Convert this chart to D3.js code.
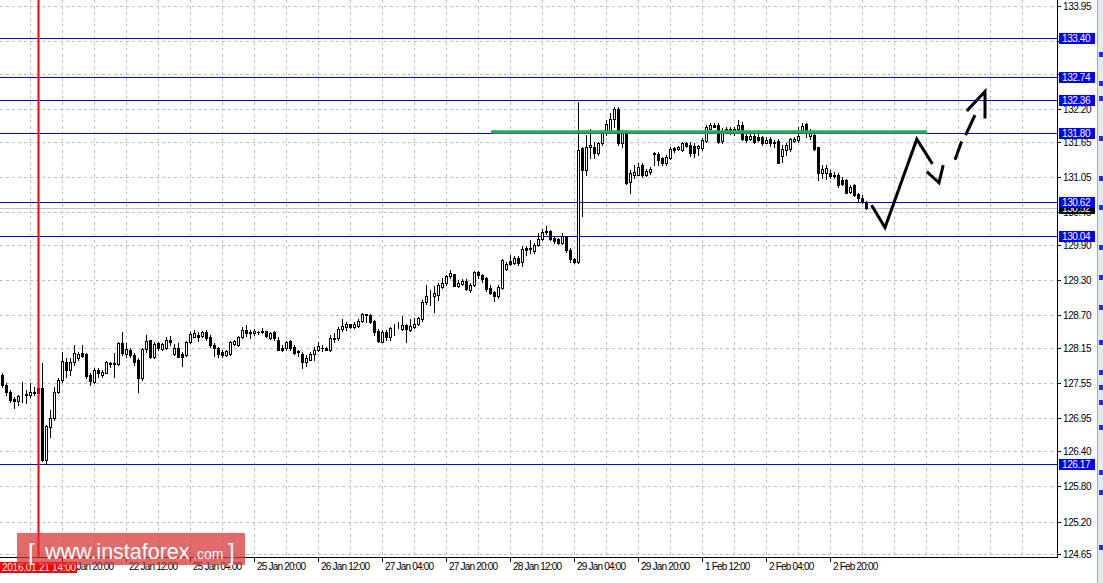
<!DOCTYPE html>
<html><head><meta charset="utf-8">
<script src="https://cdn.jsdelivr.net/npm/d3@7"></script>
<style>body{margin:0;background:#fff}svg{display:block}</style>
</head><body><svg id="c" width="1103" height="583"></svg>
<script>
// ---- DATA ----
const firstBar = 1; // bar index of first candle (H1 bars from 21 Jan 04:00)
const opens = [127.69,127.52,127.40,127.28,127.25,127.34,127.34,127.34,127.38,127.47,127.46,126.25,126.81,126.95,127.40,127.60,127.91,127.77,127.91,127.97,128.06,128.04,127.69,127.57,127.78,127.69,127.73,127.88,127.89,127.88,128.23,128.04,128.11,128.03,127.94,127.63,128.13,128.28,128.00,128.23,128.13,128.14,128.28,128.04,128.14,128.04,128.03,128.24,128.34,128.37,128.35,128.41,128.34,128.20,128.14,128.07,128.03,128.04,128.21,128.20,128.34,128.45,128.40,128.40,128.42,128.42,128.43,128.31,128.41,128.29,128.14,128.14,128.26,128.17,128.09,128.04,127.90,127.95,128.04,128.11,128.15,128.15,128.12,128.31,128.31,128.46,128.50,128.55,128.51,128.52,128.61,128.71,128.71,128.60,128.44,128.25,128.42,128.34,128.48,128.50,128.46,128.53,128.45,128.51,128.55,128.63,128.92,129.02,129.03,129.05,129.18,129.25,129.36,129.40,129.20,129.23,129.29,129.13,129.22,129.44,129.38,129.33,129.16,129.10,129.02,129.16,129.48,129.62,129.59,129.67,129.61,129.84,129.83,129.79,129.89,129.99,130.12,130.13,130.01,129.99,129.92,130.03,129.81,129.65,129.61,131.54,131.17,131.56,131.56,131.45,131.62,131.79,131.82,132.03,132.20,131.62,131.79,130.96,131.08,131.09,131.25,131.09,131.13,131.46,131.44,131.37,131.28,131.37,131.54,131.52,131.51,131.62,131.59,131.57,131.54,131.54,131.66,131.87,131.93,131.93,131.66,131.82,131.86,131.82,131.86,131.93,131.74,131.70,131.74,131.72,131.72,131.63,131.70,131.62,131.66,131.40,131.51,131.52,131.66,131.68,131.80,131.95,131.74,131.76,131.55,131.11,131.11,131.12,131.08,131.08,131.00,130.99,130.80,130.91,130.76,130.70,130.61];
const highs = [127.72,127.55,127.43,127.32,127.35,127.57,127.43,127.55,127.49,127.49,127.89,126.84,127.10,127.49,127.63,128.08,127.97,127.97,128.20,128.08,128.20,128.06,127.72,127.80,127.80,127.77,127.92,127.91,128.06,128.25,128.42,128.23,128.14,128.06,127.97,128.14,128.37,128.29,128.25,128.25,128.23,128.34,128.35,128.21,128.23,128.08,128.27,128.42,128.45,128.41,128.43,128.45,128.37,128.23,128.17,128.11,128.11,128.27,128.29,128.35,128.50,128.54,128.45,128.46,128.44,128.48,128.44,128.42,128.43,128.33,128.20,128.27,128.28,128.20,128.11,128.08,128.03,128.08,128.17,128.24,128.20,128.17,128.37,128.40,128.51,128.63,128.59,128.56,128.59,128.63,128.74,128.72,128.72,128.62,128.46,128.45,128.45,128.51,128.56,128.59,128.69,128.56,128.63,128.65,128.68,128.96,129.22,129.13,129.19,129.25,129.33,129.38,129.47,129.41,129.30,129.31,129.32,129.25,129.46,129.46,129.41,129.35,129.21,129.12,129.22,129.65,129.61,129.72,129.71,129.71,129.87,129.87,129.98,129.92,130.09,130.16,130.22,130.15,130.04,130.01,130.10,130.05,129.84,129.68,132.32,131.56,131.76,131.87,131.65,131.65,131.82,132.02,132.13,132.24,132.24,131.85,131.85,131.16,131.25,131.28,131.28,131.18,131.22,131.47,131.48,131.39,131.42,131.56,131.56,131.57,131.65,131.64,131.65,131.62,131.59,131.71,131.93,131.96,131.97,131.96,131.88,131.90,131.89,131.89,132.02,131.98,131.83,131.79,131.82,131.84,131.74,131.73,131.73,131.68,131.69,131.59,131.62,131.71,131.73,131.90,131.96,131.97,131.86,131.79,131.56,131.25,131.25,131.17,131.14,131.11,131.04,131.01,130.91,130.93,130.78,130.74,130.64];
const lows = [127.48,127.35,127.23,127.12,127.18,127.23,127.21,127.32,127.35,127.38,126.23,126.17,126.64,126.92,127.38,127.57,127.66,127.69,127.86,127.94,128.00,127.63,127.52,127.55,127.66,127.66,127.72,127.83,127.66,127.86,128.03,128.00,128.00,127.86,127.40,127.60,128.08,127.97,127.97,128.11,128.11,128.13,128.20,128.03,127.99,127.84,128.01,128.23,128.33,128.27,128.34,128.28,128.17,128.01,127.99,128.00,128.01,128.03,128.20,128.18,128.32,128.35,128.31,128.37,128.38,128.40,128.33,128.30,128.29,128.11,128.09,128.11,128.11,128.04,128.01,127.80,127.84,127.94,127.95,128.10,128.09,128.11,128.10,128.24,128.28,128.44,128.45,128.48,128.48,128.51,128.58,128.58,128.57,128.37,128.25,128.24,128.28,128.29,128.37,128.48,128.45,128.24,128.44,128.48,128.54,128.61,128.89,128.88,128.75,128.96,129.17,129.22,129.33,129.19,129.18,129.22,129.13,129.10,129.20,129.34,129.27,129.12,129.07,128.95,128.99,129.14,129.47,129.55,129.58,129.55,129.53,129.72,129.75,129.75,129.87,129.98,130.08,129.98,129.92,129.91,129.91,129.78,129.61,129.59,129.59,130.39,131.08,131.37,131.37,131.42,131.59,131.76,131.80,131.90,131.59,131.56,130.93,130.77,131.03,131.08,131.05,131.07,131.10,131.25,131.25,131.25,131.25,131.35,131.47,131.51,131.49,131.56,131.40,131.39,131.42,131.51,131.65,131.86,131.89,131.63,131.63,131.79,131.78,131.76,131.85,131.68,131.64,131.67,131.62,131.66,131.59,131.62,131.57,131.55,131.28,131.30,131.42,131.49,131.64,131.65,131.79,131.73,131.70,131.51,131.00,131.03,131.01,131.03,131.03,130.88,130.91,130.77,130.77,130.73,130.63,130.61,130.50];
const closes = [127.52,127.40,127.26,127.25,127.33,127.35,127.36,127.40,127.40,127.39,126.25,126.82,126.95,127.40,127.60,127.92,127.78,127.91,128.06,128.04,128.01,127.67,127.59,127.78,127.72,127.74,127.90,127.89,127.88,128.23,128.06,128.13,128.03,127.90,127.63,128.13,128.27,128.00,128.21,128.14,128.21,128.28,128.24,128.14,128.00,128.00,128.24,128.38,128.40,128.33,128.41,128.31,128.20,128.14,128.04,128.03,128.10,128.25,128.27,128.34,128.45,128.40,128.42,128.44,128.41,128.43,128.35,128.40,128.31,128.12,128.11,128.25,128.14,128.06,128.08,127.90,127.97,128.04,128.12,128.18,128.14,128.12,128.31,128.30,128.46,128.52,128.56,128.51,128.55,128.61,128.72,128.72,128.58,128.42,128.27,128.42,128.33,128.48,128.49,128.51,128.53,128.46,128.52,128.56,128.65,128.93,129.02,129.03,129.08,129.22,129.25,129.37,129.42,129.20,129.25,129.28,129.14,129.22,129.44,129.38,129.31,129.14,129.08,129.02,129.18,129.64,129.57,129.57,129.67,129.59,129.82,129.81,129.84,129.89,129.99,130.12,130.13,129.99,129.97,129.93,130.04,129.81,129.65,129.61,131.51,131.17,131.56,131.59,131.45,131.62,131.79,131.95,132.03,132.21,131.63,131.80,130.94,131.12,131.13,131.22,131.09,131.15,131.18,131.44,131.34,131.28,131.39,131.52,131.50,131.55,131.63,131.57,131.45,131.45,131.57,131.68,131.90,131.93,131.90,131.65,131.83,131.86,131.80,131.86,131.93,131.70,131.67,131.74,131.64,131.68,131.62,131.68,131.62,131.65,131.29,131.52,131.59,131.69,131.70,131.74,131.91,131.79,131.79,131.52,131.11,131.18,131.20,131.07,131.07,130.91,130.93,130.78,130.87,130.74,130.70,130.63,130.52];

const priceTicks = [133.95,133.35,132.80,132.20,131.65,131.05,130.45,129.90,129.30,128.70,128.15,127.55,126.95,126.40,125.80,125.20,124.65];
const priceTickLabels = ["133.95","","","132.20","131.65","131.05","130.45","129.90","129.30","128.70","128.15","127.55","126.95","126.40","125.80","125.20","124.65"];
const timeTickBars = [0,16,32,48,64,80,96,112,128,144,160,176,192,208];
const timeTickLabels = ["","21 Jan 20:00","22 Jan 12:00","25 Jan 04:00","25 Jan 20:00","26 Jan 12:00","27 Jan 04:00","27 Jan 20:00","28 Jan 12:00","29 Jan 04:00","29 Jan 20:00","1 Feb 12:00","2 Feb 04:00","2 Feb 20:00"];
const levels = [133.40,132.74,132.36,131.80,130.62,130.04,126.17];
const levelLabels = ["133.40","132.74","132.36","131.80","130.62","130.04","126.17"];
const bidPrice = 130.52;
const markerBar = 10, markerLabel = "2016.01.21 14:00";
const greenLevel = 131.81, greenFrom = 123.25, greenTo = 232.25;
const forecastSolid = [[218.4,130.57],[221.75,130.19],[229.7,131.69],[233.6,131.27]];
const forecastDashes = [
  [[232.2,131.14],[235.25,130.95],[236.3,131.25]],
  [[239.25,131.34],[240.9,131.65]],
  [[241.9,131.76],[244.25,132.10]],
  [[242.2,132.17],[246.75,132.50],[246.75,132.04]]
];

// ---- CHART ----
const svg = d3.select("#c");
const plotR = 1057, plotB = 557;
const x = d3.scaleLinear().domain([0, 264]).range([-2, 1054]);
const y = d3.scaleLinear().domain([124.65, 133.95]).range([554, 6]);
const font = "'Liberation Sans', Arial, sans-serif";
const ry = v => Math.round(y(v));

svg.append("rect").attr("width",1103).attr("height",583).attr("fill","#fff");

const plot = svg.append("g");
// grid
const vGrid = d3.range(8, 264, 8).filter(i => x(i) < plotR);
plot.selectAll(".vg").data(vGrid).enter().append("line")
  .attr("x1", d => x(d)+0.5).attr("x2", d => x(d)+0.5).attr("y1",0).attr("y2",plotB)
  .attr("stroke","#c0c0c0").attr("stroke-dasharray","3,3");
plot.selectAll(".hg").data(priceTicks).enter().append("line")
  .attr("x1",0).attr("x2",plotR).attr("y1", d => ry(d)+0.5).attr("y2", d => ry(d)+0.5)
  .attr("stroke","#c0c0c0").attr("stroke-dasharray","3,3");

// bid line
plot.append("line").attr("x1",0).attr("x2",plotR).attr("y1",ry(bidPrice)+0.5).attr("y2",ry(bidPrice)+0.5)
  .attr("stroke","#c0c0c0");

// levels
plot.selectAll(".lv").data(levels).enter().append("line")
  .attr("x1",0).attr("x2",plotR).attr("y1", d => ry(d)+0.5).attr("y2", d => ry(d)+0.5)
  .attr("stroke","#0000ff").attr("stroke-width",1.2);

// candles
const bars = opens.map((o,k) => ({i: firstBar+k, o, h: highs[k], l: lows[k], c: closes[k]}));
const cg = plot.append("g");
bars.forEach(b => {
  const cx = x(b.i);
  cg.append("line").attr("x1",cx+0.5).attr("x2",cx+0.5)
    .attr("y1",ry(b.h)).attr("y2",ry(b.l)+1).attr("stroke","#000");
  const top = ry(Math.max(b.o,b.c)), bot = ry(Math.min(b.o,b.c));
  if (b.c >= b.o) {
    cg.append("rect").attr("x",cx-0.5).attr("y",top+0.5).attr("width",2).attr("height",Math.max(bot-top,0))
      .attr("fill","#fff").attr("stroke","#000");
  } else {
    cg.append("rect").attr("x",cx-1).attr("y",top).attr("width",3).attr("height",Math.max(bot-top+1,1))
      .attr("fill","#000");
  }
});

// green level
plot.append("line").attr("x1",x(greenFrom)).attr("x2",x(greenTo))
  .attr("y1",y(greenLevel)).attr("y2",y(greenLevel)).attr("stroke","#2ca94f").attr("stroke-width",3.5);

// forecast
const lineGen = d3.line().x(d => x(d[0])).y(d => y(d[1]));
plot.append("path").attr("d",lineGen(forecastSolid)).attr("fill","none").attr("stroke","#000")
  .attr("stroke-width",3).attr("stroke-linejoin","miter");
forecastDashes.forEach(seg => plot.append("path").attr("d",lineGen(seg)).attr("fill","none")
  .attr("stroke","#000").attr("stroke-width",3));

// red marker
plot.append("line").attr("x1",x(markerBar)+0.5).attr("x2",x(markerBar)+0.5).attr("y1",0).attr("y2",plotB)
  .attr("stroke","#ff0000").attr("stroke-width",2);

// axes frame
svg.append("rect").attr("x",plotR).attr("y",0).attr("width",1103-plotR).attr("height",583).attr("fill","#fff");
svg.append("rect").attr("x",0).attr("y",plotB).attr("width",1103).attr("height",583-plotB).attr("fill","#fff");
svg.append("line").attr("x1",plotR+0.5).attr("x2",plotR+0.5).attr("y1",0).attr("y2",plotB+1).attr("stroke","#000");
svg.append("line").attr("x1",0).attr("x2",plotR+1).attr("y1",plotB+0.5).attr("y2",plotB+0.5).attr("stroke","#000");

// right axis ticks
const ra = svg.append("g");
priceTicks.forEach((p,k) => {
  ra.append("line").attr("x1",plotR).attr("x2",plotR+4).attr("y1",ry(p)+0.5).attr("y2",ry(p)+0.5).attr("stroke","#000");
  if (priceTickLabels[k]) ra.append("text").attr("x",plotR+6).attr("y",ry(p)+0.5).attr("dy","0.36em")
    .attr("font-family",font).attr("font-size",10).attr("letter-spacing","-0.4px").attr("fill","#000").text(priceTickLabels[k]);
});
// bid label
ra.append("rect").attr("x",plotR+2).attr("y",ry(bidPrice)-5).attr("width",36).attr("height",11).attr("fill","#000");
ra.append("text").attr("x",plotR+5).attr("y",ry(bidPrice)+0.5).attr("dy","0.36em")
  .attr("font-family",font).attr("font-size",10).attr("letter-spacing","-0.4px").attr("fill","#fff").text(bidPrice.toFixed(2));
// level labels
levels.forEach((p,k) => {
  ra.append("rect").attr("x",plotR+2).attr("y",ry(p)-5).attr("width",36).attr("height",11).attr("fill","#0000ff");
  ra.append("text").attr("x",plotR+5).attr("y",ry(p)+0.5).attr("dy","0.36em")
    .attr("font-family",font).attr("font-size",10).attr("letter-spacing","-0.4px").attr("fill","#fff").text(levelLabels[k]);
});

// bottom axis
const ba = svg.append("g");
timeTickBars.forEach((b,k) => {
  const tx = x(b);
  ba.append("line").attr("x1",tx+0.5).attr("x2",tx+0.5).attr("y1",plotB).attr("y2",plotB+5).attr("stroke","#000");
  if (timeTickLabels[k]) ba.append("text").attr("x",tx+3).attr("y",570).attr("font-family",font).attr("font-size",10)
    .attr("letter-spacing","-0.8px").attr("fill","#000").text(timeTickLabels[k]);
});
// marker label
ba.append("rect").attr("x",0).attr("y",562).attr("width",77).attr("height",11).attr("fill","#ff0000");
ba.append("text").attr("x",2).attr("y",571).attr("font-family",font).attr("font-size",10)
  .attr("letter-spacing","-0.25px").attr("fill","#fff").text(markerLabel);

// right side panel
svg.append("rect").attr("x",1097).attr("y",0).attr("width",6).attr("height",583).attr("fill","#e6e9ee");
svg.append("line").attr("x1",1097.5).attr("x2",1097.5).attr("y1",0).attr("y2",583).attr("stroke","#a8a8a8");
[52,81,96,136,176,205,245,275,305,340,370,385,400,425,470,490,545].forEach(py =>
  svg.append("rect").attr("x",1099).attr("y",py).attr("width",4).attr("height",5).attr("fill","#2a2ad0"));

// logo
const lg = svg.append("g");
lg.append("rect").attr("x",17).attr("y",533).attr("width",228).attr("height",32).attr("fill","rgba(214,48,48,0.72)");
lg.append("text").attr("x",28).attr("y",560).attr("font-family",font).attr("font-size",24)
  .attr("font-weight",300).attr("fill","#fff").text("[");
lg.append("text").attr("x",45).attr("y",559).attr("font-family",font).attr("font-size",21.5)
  .attr("fill","#fff").text("www.instaforex");
lg.append("text").attr("x",193).attr("y",559).attr("font-family",font).attr("font-size",14)
  .attr("fill","#fff").text(".com");
lg.append("text").attr("x",228).attr("y",560).attr("font-family",font).attr("font-size",24)
  .attr("fill","#fff").text("]");
</script></body></html>
